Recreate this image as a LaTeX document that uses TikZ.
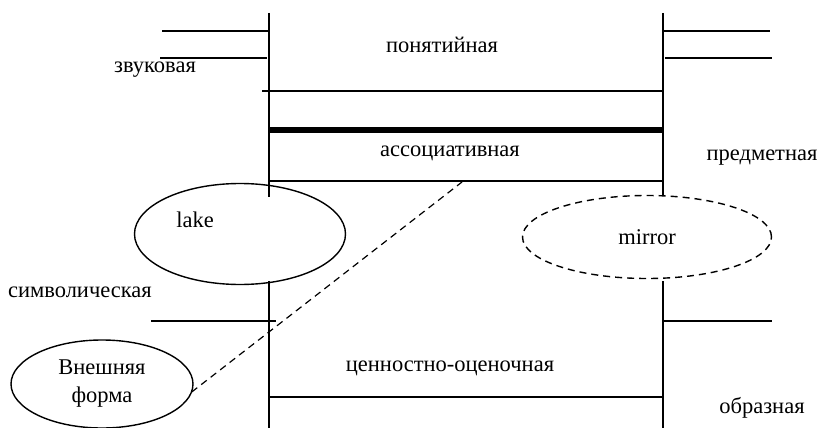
\documentclass[tikz,border=0pt]{standalone}
\usepackage{fontspec}
\setmainfont{Liberation Serif}
\usetikzlibrary{shapes.geometric}
\begin{document}
\begin{tikzpicture}[x=1pt,y=-1pt,
  ln/.style={line width=1.4pt},
  thick line/.style={line width=6pt},
  lbl/.style={font=\fontsize{22.5}{27}\selectfont, inner sep=0pt},
  ell/.style={ellipse, draw, line width=1.4pt, inner sep=0pt, font=\fontsize{22.5}{27}\selectfont}]
\useasboundingbox (0,0) rectangle (817,428);
% left vertical
\draw[ln] (269,13) -- (269,197);
\draw[ln] (269,281) -- (269,428);
% right vertical
\draw[ln] (663,13) -- (663,196);
\draw[ln] (663,281) -- (663,428);
% top stubs
\draw[ln] (162,31) -- (269,31);
\draw[ln] (160,58) -- (267,58);
\draw[ln] (663,31) -- (770,31);
\draw[ln] (665,58) -- (772,58);
% middle horizontals
\draw[ln] (262,91) -- (663,91);
\draw[thick line] (269,130) -- (663,130);
\draw[ln] (269,181) -- (663,181);
% lower stubs
\draw[ln] (151,321) -- (276,321);
\draw[ln] (663,321) -- (772,321);
\draw[ln] (269,397) -- (663,397);
% ellipses
\node[ell, minimum width=211pt, minimum height=101pt] (lake) at (240,234) {};
\node[lbl] (laketext) at (195,220) {lake};
\node[ell, dashed, dash pattern=on 7pt off 5pt, minimum width=249pt, minimum height=83pt] (mirror) at (647,237) {mirror};
\node[ell, minimum width=182pt, minimum height=88pt, align=center, font=\fontsize{22.5}{28}\selectfont] (vf) at (102,384) {Внешняя\\форма};
% dashed connector
\coordinate (dend) at (462,182);
\draw[line width=1.2pt, dash pattern=on 7pt off 5pt] (vf.east) ++(-2,8) coordinate (vfe) (vfe) -- (dend);
% labels
\node[lbl] (pon) at (442,45) {понятийная};
\node[lbl] (zv) at (155,70) {звуковая};
\node[lbl] (assoc) at (450,153) {ассоциативная};
\node[lbl] (pred) at (762,158) {предметная};
\node[lbl, anchor=east] (sym) at (152,292) {символическая};
\node[lbl] (cen) at (450,368) {ценностно-оценочная};
\node[lbl] (obr) at (762,408) {образная};
\end{tikzpicture}
\end{document}
